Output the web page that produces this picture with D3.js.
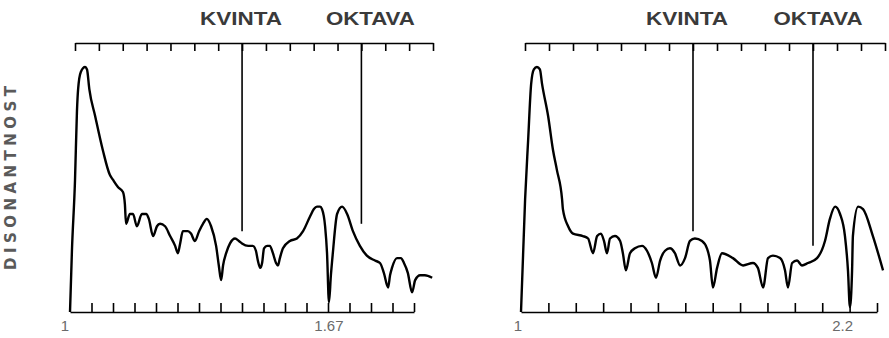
<!DOCTYPE html>
<html>
<head>
<meta charset="utf-8">
<script src="https://cdn.jsdelivr.net/npm/d3@7"></script>
<style>
  html, body { margin: 0; padding: 0; background: #fff; }
  svg { display: block; }
</style>
</head>
<body>
<div id="chart"></div>
<script>
// disonance curves: [frequency ratio, dissonance 0..100]
const leftCurve = [
  [1.000, 0], [1.005, 25], [1.013, 54], [1.018, 82], [1.021, 91], [1.028, 98], [1.039, 100],
  [1.044, 99], [1.050, 91], [1.065, 80], [1.085, 66], [1.103, 56], [1.111, 54], [1.124, 51],
  [1.137, 49], [1.142, 44], [1.145, 36], [1.155, 40], [1.163, 40], [1.173, 35], [1.186, 40],
  [1.197, 40], [1.204, 38], [1.215, 31], [1.225, 35], [1.233, 36], [1.246, 35], [1.259, 31],
  [1.272, 27], [1.279, 24], [1.285, 28], [1.292, 33], [1.305, 33], [1.313, 32], [1.323, 29],
  [1.334, 33], [1.344, 36], [1.354, 38], [1.365, 35], [1.378, 27], [1.385, 19], [1.391, 13],
  [1.396, 19], [1.404, 24], [1.414, 28], [1.427, 30], [1.437, 29], [1.445, 28], [1.461, 27],
  [1.473, 27], [1.481, 25], [1.486, 21], [1.492, 18], [1.497, 20], [1.502, 26], [1.510, 27],
  [1.517, 27], [1.525, 24], [1.533, 20], [1.538, 19], [1.543, 22], [1.551, 26], [1.569, 29],
  [1.587, 30], [1.603, 33], [1.621, 39], [1.631, 42], [1.639, 43], [1.647, 43], [1.652, 42],
  [1.660, 35], [1.665, 24], [1.670, 4], [1.675, 15], [1.680, 24], [1.691, 40], [1.704, 43],
  [1.717, 40], [1.732, 33], [1.750, 27], [1.768, 23], [1.789, 21], [1.802, 20], [1.812, 16],
  [1.823, 10], [1.828, 15], [1.833, 18], [1.846, 22], [1.856, 22], [1.864, 20], [1.874, 16],
  [1.885, 8], [1.893, 13], [1.906, 15], [1.918, 15], [1.937, 14]
];

const rightCurve = [
  [1.000, 0], [1.015, 46], [1.026, 70], [1.037, 93], [1.047, 99], [1.058, 100], [1.069, 99],
  [1.077, 93], [1.099, 80], [1.117, 66], [1.131, 58], [1.150, 46], [1.153, 42], [1.172, 35],
  [1.190, 32], [1.226, 31], [1.245, 30], [1.263, 24], [1.278, 31], [1.292, 32], [1.303, 29],
  [1.314, 24], [1.325, 30], [1.343, 31], [1.362, 29], [1.372, 24], [1.383, 17], [1.398, 24],
  [1.416, 26], [1.442, 27], [1.460, 25], [1.478, 20], [1.493, 14], [1.508, 21], [1.526, 25],
  [1.544, 26], [1.562, 24], [1.581, 19], [1.599, 22], [1.617, 29], [1.635, 30], [1.661, 29],
  [1.679, 26], [1.690, 21], [1.701, 10], [1.716, 18], [1.734, 24], [1.774, 22], [1.811, 19],
  [1.847, 20], [1.865, 18], [1.884, 10], [1.902, 22], [1.920, 23], [1.946, 22], [1.964, 17],
  [1.975, 10], [1.990, 20], [2.008, 21], [2.026, 19], [2.048, 20], [2.081, 22], [2.110, 29],
  [2.128, 38], [2.147, 43], [2.165, 40], [2.183, 31], [2.194, 17], [2.201, 2], [2.209, 17],
  [2.212, 31], [2.231, 43], [2.249, 42], [2.285, 31], [2.322, 17]
];

// interval markers on the top ruler (tick index) and where their lines end (dissonance)
const markerNames = ['KVINTA', 'OKTAVA'];
const markerTicks = [7, 12];
const leftMarkerEnds = [33, 36];
const rightMarkerEnds = [33, 27];

// bottom labels
const leftTickValues = [1, 1.67];
const leftTickLabels = ['1', '1.67'];
const rightTickValues = [1, 2.2];
const rightTickLabels = ['1', '2.2'];

const yLabel = 'DISONANTNOST';

const width = 889;
const height = 338;
const topY = 43;
const baseY = 312;
const peakY = 67;

const svg = d3.select('#chart')
  .append('svg')
  .attr('width', width)
  .attr('height', height)
  .attr('viewBox', [0, 0, width, height]);

const y = d3.scaleLinear().domain([0, 100]).range([baseY, peakY]);

const line = d3.line()
  .x(d => d[0])
  .y(d => d[1])
  .curve(d3.curveMonotoneX);

const panels = [
  {
    curve: leftCurve, domain: [1, 1.89], range: [70, 414], topRange: [75, 433],
    bottomSteps: 16, markerEnds: leftMarkerEnds, labelDx: [-1, 9],
    tickValues: leftTickValues, tickLabels: leftTickLabels, labelShift: [-5, 0]
  },
  {
    curve: rightCurve, domain: [1, 2.3], range: [521, 877], topRange: [525, 885],
    bottomSteps: 13, markerEnds: rightMarkerEnds, labelDx: [-6, 5],
    tickValues: rightTickValues, tickLabels: rightTickLabels, labelShift: [-3, -7]
  }
];

panels.forEach(p => {
  const x = d3.scaleLinear().domain(p.domain).range(p.range);
  const top = d3.scaleLinear().domain([0, 15]).range(p.topRange);
  const ruler = d3.scaleLinear().domain([0, p.bottomSteps]).range(p.range);

  // top ruler
  const gTop = svg.append('g')
    .attr('transform', `translate(0,${topY})`)
    .call(d3.axisBottom(top).tickValues(d3.range(16)).tickSize(8).tickSizeOuter(0).tickFormat(''));
  gTop.select('.domain').attr('stroke', '#000').attr('stroke-width', 1.6);
  gTop.selectAll('.tick line').attr('stroke', '#000').attr('stroke-width', 1.6);

  // bottom ruler
  const gBot = svg.append('g')
    .attr('transform', `translate(0,${baseY})`)
    .call(d3.axisTop(ruler).tickValues(d3.range(1, p.bottomSteps + 1)).tickSize(9).tickSizeOuter(0).tickFormat(''));
  gBot.select('.domain').attr('stroke', '#000').attr('stroke-width', 1.6);
  gBot.selectAll('.tick line').attr('stroke', '#000').attr('stroke-width', 1.6);

  // marker lines + names
  markerTicks.forEach((t, i) => {
    svg.append('line')
      .attr('x1', top(t)).attr('x2', top(t))
      .attr('y1', topY).attr('y2', y(p.markerEnds[i]))
      .attr('stroke', '#000')
      .attr('stroke-width', 1.6);

    svg.append('text')
      .attr('x', top(t) + p.labelDx[i])
      .attr('y', 25)
      .attr('text-anchor', 'middle')
      .attr('textLength', i === 0 ? 82 : 89)
      .attr('lengthAdjust', 'spacingAndGlyphs')
      .style('font-family', '"Liberation Sans", Arial, sans-serif')
      .style('font-weight', 'bold')
      .style('font-size', '18px')
      .attr('fill', '#3a3a3a')
      .text(markerNames[i]);
  });

  // curve
  svg.append('path')
    .datum(p.curve.map(d => [x(d[0]), y(d[1])]))
    .attr('fill', 'none')
    .attr('stroke', '#000')
    .attr('stroke-width', 2.4)
    .attr('stroke-linejoin', 'round')
    .attr('d', line);

  // bottom value labels
  p.tickValues.forEach((v, i) => {
    svg.append('text')
      .attr('x', x(v) + p.labelShift[i])
      .attr('y', 331)
      .attr('text-anchor', 'middle')
      .style('font-family', '"Liberation Sans", Arial, sans-serif')
      .style('font-size', '15px')
      .attr('fill', '#6a6a6a')
      .text(p.tickLabels[i]);
  });
});

// y axis title
svg.append('text')
  .attr('transform', 'translate(16,178) rotate(-90)')
  .attr('text-anchor', 'middle')
  .attr('textLength', 184)
  .attr('lengthAdjust', 'spacing')
  .style('font-family', '"DejaVu Sans", sans-serif')
  .style('font-weight', 'bold')
  .style('font-size', '15px')
  .attr('fill', '#5a5a5a')
  .text(yLabel);
</script>
</body>
</html>
